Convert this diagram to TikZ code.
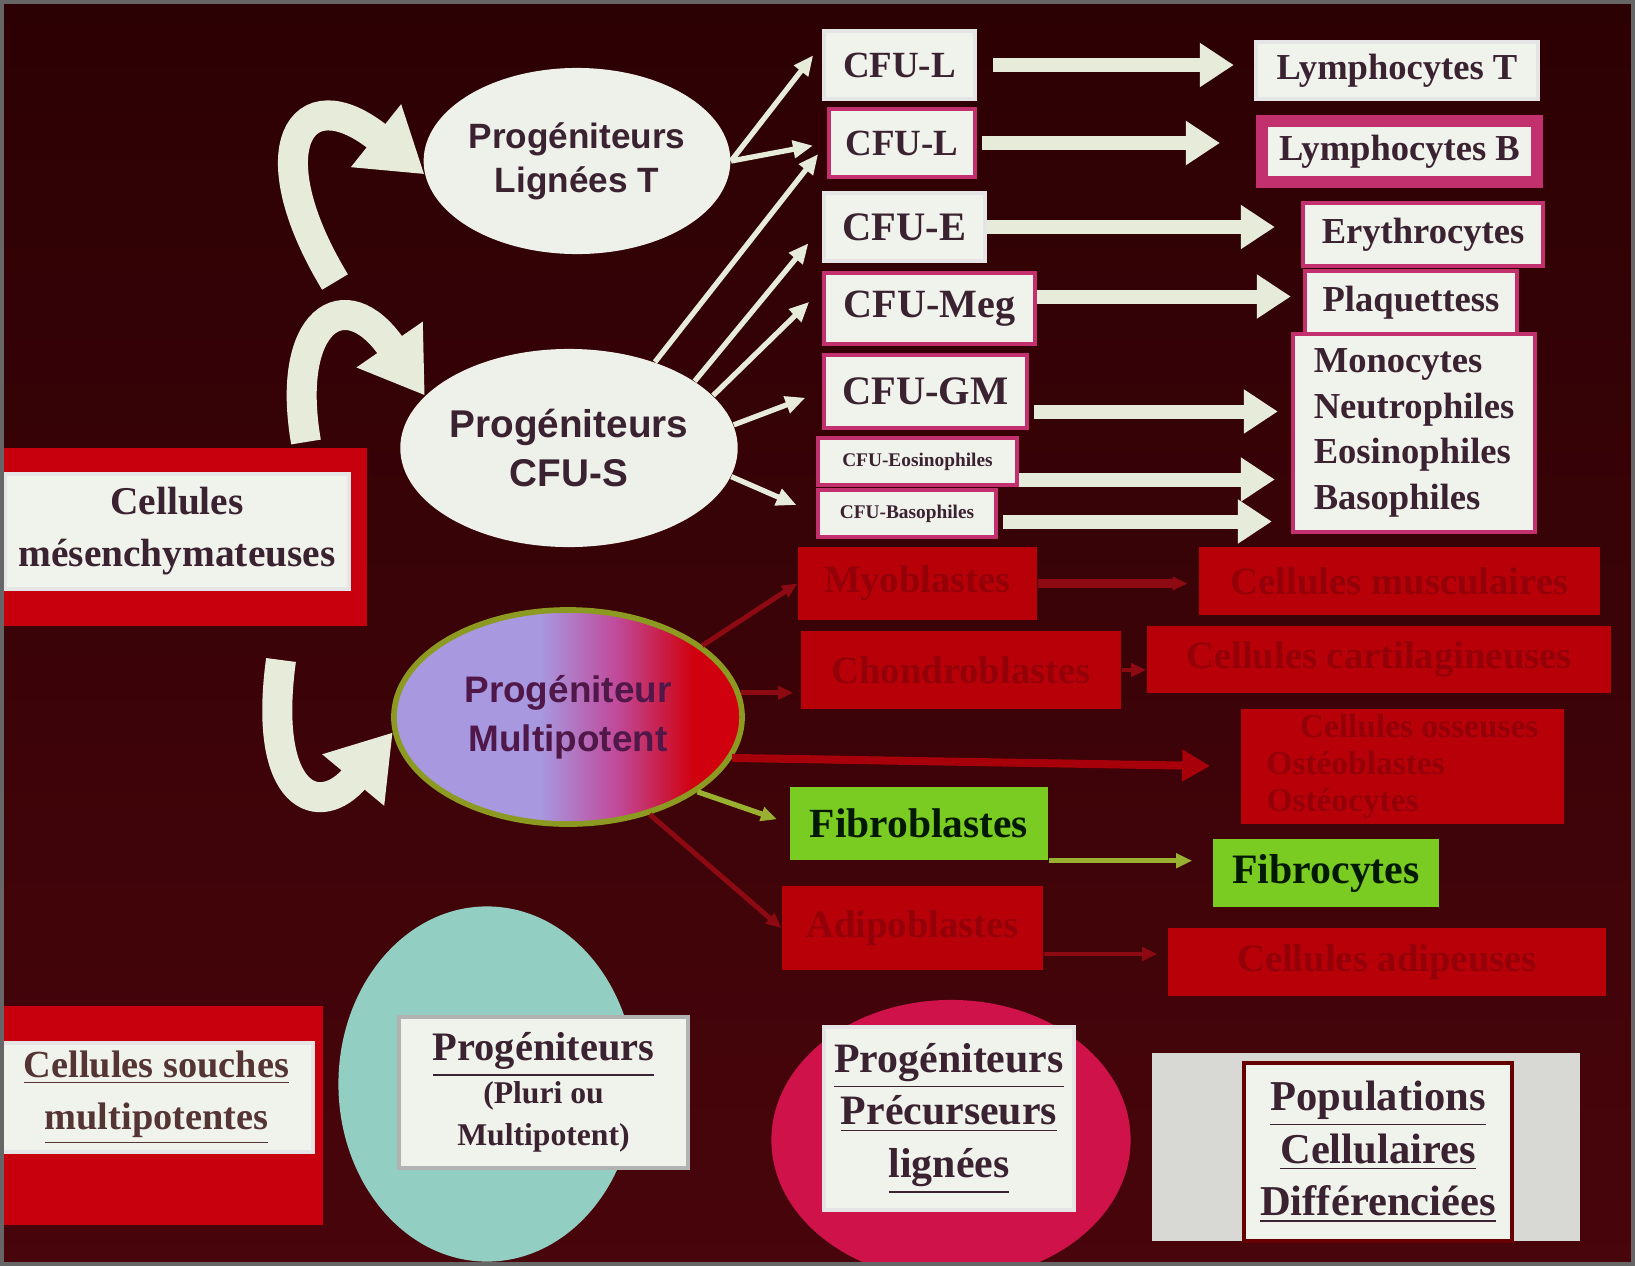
\documentclass[tikz,border=0pt]{standalone}
\usepackage{fontspec}
\setmainfont{Liberation Serif}
\newfontfamily\sansb{Liberation Sans}
\usetikzlibrary{shapes.geometric,arrows.meta,calc}
\newcommand\myfs[2]{\fontsize{#1}{#2}\selectfont}
\definecolor{bgtop}{HTML}{2C0104}
\definecolor{bgbot}{HTML}{48050B}
\definecolor{cream}{HTML}{E6ECD9}
\definecolor{ellfill}{HTML}{EEF0EA}
\definecolor{txt}{HTML}{3B2231}
\definecolor{boxred}{HTML}{B80008}
\definecolor{redtxt}{HTML}{940008}
\definecolor{brightred}{HTML}{C8000E}
\definecolor{pinkb}{HTML}{C2306E}
\definecolor{grn}{HTML}{7ACC22}
\definecolor{grnline}{HTML}{9AB030}
\definecolor{tealc}{HTML}{92CFC2}
\definecolor{crimson}{HTML}{D0124A}
\definecolor{lav}{HTML}{A898E0}
\definecolor{mpred}{HTML}{D0000E}
\definecolor{mppink}{HTML}{C04A9A}
\definecolor{olive}{HTML}{8C9A22}
\definecolor{boxwhite}{HTML}{F0F2EC}
\definecolor{graybox}{HTML}{D8D8D4}
\definecolor{darkredline}{HTML}{8E0A12}
\definecolor{ostred}{HTML}{A8000A}
\pgfdeclarehorizontalshading{mpshade}{100bp}{color(0bp)=(lav); color(46bp)=(lav); color(57bp)=(mppink); color(68bp)=(mpred); color(100bp)=(mpred)}
\tikzset{
  wbox/.style={rectangle, fill=boxwhite, draw=#1, line width=1.2pt, inner sep=0pt, text=txt, align=center},
  wbox/.default=white!80!gray,
  rbox/.style={rectangle, fill=boxred, inner sep=0pt, text=redtxt, align=center},
  gbox/.style={rectangle, fill=grn, inner sep=0pt, text=black!75!green!40!black, align=center},
  ellnode/.style={ellipse, fill=ellfill, inner sep=0pt, text=txt, align=center},
  blockarr/.style={draw=cream, line width=0.14cm, -{Triangle[width=0.42cm,length=0.34cm]}},
  thinarr/.style={draw=cream, line width=1.5pt, -{Triangle[width=0.17cm,length=0.2cm]}},
  curvarr/.style={draw=cream, line width=0.3cm, -{Triangle[width=0.76cm,length=0.62cm]}},
  redarr/.style={draw=darkredline, line width=1.4pt, -{Triangle[width=0.13cm,length=0.15cm]}},
  grnarr/.style={draw=grnline, line width=1.5pt, -{Triangle[width=0.14cm,length=0.16cm]}}
}
\begin{document}
\begin{tikzpicture}[x=0.01cm,y=-0.01cm]
\useasboundingbox (0,0) rectangle (1635,1266);
\clip (0,0) rectangle (1635,1266);
\shade[top color=bgtop, bottom color=bgbot] (0,0) rectangle (1635,1266);

% ---- ellipses
\node[ellnode, minimum width=2.88cm, minimum height=1.86cm, font=\sansb\bfseries\myfs{10}{12.5}] (ellT) at (577,161) {Progéniteurs\\Lignées T};
\node[ellnode, minimum width=3.14cm, minimum height=1.98cm, font=\sansb\bfseries\myfs{11}{14}] (cfuS) at (569,448) {Progéniteurs\\CFU-S};
\node[ellipse, shade, shading=mpshade, draw=olive, line width=1.6pt, inner sep=0pt, minimum width=3.48cm, minimum height=2.14cm, text=txt!70!violet, align=center, font=\sansb\bfseries\myfs{10.5}{14}] (mp) at (568,717) {Progéniteur\\Multipotent};

% ---- left boxes
\node[rectangle, fill=brightred, minimum width=3.67cm, minimum height=1.78cm] (mesOut) at (183.5,537) {};
\node[wbox, minimum width=3.44cm, minimum height=1.15cm, font=\bfseries\myfs{11.2}{14.8}] (mes) at (177,531.5) {Cellules\\mésenchymateuses};

\node[rectangle, fill=brightred, minimum width=3.23cm, minimum height=2.19cm] (souOut) at (161.5,1115.5) {};
\node[wbox, minimum width=3.13cm, minimum height=1.09cm, font=\bfseries\myfs{10.9}{14.8}, text=txt!80!brown] (sou) at (156.5,1097.5) {\underline{Cellules souches}\\\underline{multipotentes}};

% ---- bottom legend circles
\node[ellipse, fill=tealc, minimum width=2.97cm, minimum height=3.55cm, inner sep=0pt] (teal) at (487,1084) {};
\node[wbox=gray!60, minimum width=2.89cm, minimum height=1.51cm, font=\bfseries\myfs{9}{12}] (tealbox) at (543.5,1092.5) {{\myfs{11.5}{13}\underline{Progéniteurs}}\\(Pluri ou\\Multipotent)};

\node[ellipse, fill=crimson, minimum width=3.59cm, minimum height=2.8cm, inner sep=0pt] (pinkc) at (951,1140) {};
\node[wbox, minimum width=2.5cm, minimum height=1.83cm, font=\bfseries\myfs{11.9}{15}] (pinkbox) at (949,1118.5) {\underline{Progéniteurs}\\\underline{Précurseurs}\\\underline{lignées}};

\node[rectangle, fill=graybox, minimum width=4.28cm, minimum height=1.88cm] (popOut) at (1366,1147) {};
\node[wbox=black!60!red, minimum width=2.68cm, minimum height=1.78cm, font=\bfseries\myfs{12.1}{15}] (pop) at (1378,1152) {\underline{Populations}\\\underline{Cellulaires}\\\underline{Différenciées}};

% ---- CFU boxes
\node[wbox, minimum width=1.51cm, minimum height=0.68cm, font=\bfseries\myfs{10.5}{12}] (cfuL1) at (899.5,65) {CFU-L};
\node[wbox=pinkb, minimum width=1.46cm, minimum height=0.68cm, font=\bfseries\myfs{10.5}{12}] (cfuL2) at (902,143) {CFU-L};
\node[wbox, minimum width=1.61cm, minimum height=0.68cm, font=\bfseries\myfs{11.5}{12}] (cfuE) at (904.5,227) {CFU-E};
\node[wbox=pinkb, minimum width=2.11cm, minimum height=0.71cm, font=\bfseries\myfs{11.4}{12}] (cfuMeg) at (929.5,308.5) {CFU-Meg};
\node[wbox=pinkb, minimum width=2.03cm, minimum height=0.73cm, font=\bfseries\myfs{11.5}{12}] (cfuGM) at (925.5,391.5) {CFU-GM};
\node[wbox=pinkb, minimum width=1.99cm, minimum height=0.47cm, font=\bfseries\myfs{5.5}{6}] (cfuEos) at (917.5,461.5) {CFU-Eosinophiles};
\node[wbox=pinkb, minimum width=1.78cm, minimum height=0.47cm, font=\bfseries\myfs{5.5}{6}] (cfuBas) at (907,513.5) {CFU-Basophiles};

% ---- targets
\node[wbox, minimum width=2.82cm, minimum height=0.57cm, font=\bfseries\myfs{10.4}{12}] (lymT) at (1397,70.5) {Lymphocytes T};
\node[wbox=pinkb, line width=3.4pt, minimum width=2.75cm, minimum height=0.61cm, font=\bfseries\myfs{10.4}{12}] (lymB) at (1399.5,151.5) {Lymphocytes B};
\node[wbox=pinkb, minimum width=2.40cm, minimum height=0.63cm, font=\bfseries\myfs{10.4}{12}] (ery) at (1423,234.5) {Erythrocytes};
\node[wbox=pinkb, minimum width=2.12cm, minimum height=0.63cm, font=\bfseries\myfs{10.4}{12}] (plaq) at (1411,302.5) {Plaquettess};
\node[wbox=pinkb, minimum width=2.42cm, minimum height=1.98cm, font=\bfseries\myfs{10.4}{13}, align=left] (grp) at (1414,433) {Monocytes\\Neutrophiles\\Eosinophiles\\Basophiles};

% ---- red and green boxes
\node[rbox, minimum width=2.39cm, minimum height=0.73cm, font=\bfseries\myfs{11}{13}] (myo) at (917.5,583.5) {Myoblastes};
\node[rbox, minimum width=4.01cm, minimum height=0.68cm, font=\bfseries\myfs{11}{13}] (musc) at (1399.5,581) {Cellules musculaires};
\node[rbox, minimum width=3.2cm, minimum height=0.78cm, font=\bfseries\myfs{11}{13}] (chon) at (961,670) {Chondroblastes};
\node[rbox, minimum width=4.64cm, minimum height=0.67cm, font=\bfseries\myfs{11}{13}] (cart) at (1379,659.5) {Cellules cartilagineuses};
\node[rbox, minimum width=3.23cm, minimum height=1.15cm, font=\bfseries\myfs{9.5}{10.5}, align=left] (ost) at (1402.5,766.5) {\hspace*{1em}Cellules osseuses\\Ostéoblastes\\Ostéocytes};
\node[rbox, minimum width=2.61cm, minimum height=0.84cm, font=\bfseries\myfs{11}{13}] (adi) at (912.5,928) {Adipoblastes};
\node[rbox, minimum width=4.38cm, minimum height=0.68cm, font=\bfseries\myfs{11}{13}] (adip) at (1387,962) {Cellules adipeuses};
\node[gbox, minimum width=2.58cm, minimum height=0.73cm, font=\bfseries\myfs{11.8}{13}] (fibb) at (919,823.5) {Fibroblastes};
\node[gbox, minimum width=2.26cm, minimum height=0.68cm, font=\bfseries\myfs{11.9}{13}] (fibc) at (1326,873) {Fibrocytes};

% ---- curved block arrows
\coordinate (c1) at (335,282);
\coordinate (c2) at (306,442);
\coordinate (c3) at (281,660);
\draw[curvarr] (c1) .. controls (255,150) and (300,75) .. (ellT.185);
\draw[curvarr] (c2) .. controls (285,320) and (345,280) .. (cfuS.160);
\draw[curvarr] (c3) .. controls (262,800) and (320,820) .. (mp.185);

% ---- thin arrows from ellipses
\draw[thinarr, shorten >=4pt] (ellT.east) -- (cfuL1.165);
\draw[thinarr, shorten >=4pt] (ellT.east) -- (cfuL2.west);
\draw[thinarr, shorten >=4pt] (cfuS.45) -- (cfuL2.west);
\draw[thinarr, shorten >=6pt] (cfuS.28) -- (cfuE.west);
\draw[thinarr, shorten >=5pt] (cfuS.20) -- (cfuMeg.170);
\draw[thinarr, shorten >=5pt] (cfuS.8) -- (cfuGM.west);
\draw[thinarr, shorten >=6pt] (cfuS.-10) -- (cfuBas.west);

% ---- straight block arrows
\coordinate (megout) at ($(cfuMeg.east)+(0,-12)$);
\coordinate (gmout) at ($(cfuGM.east)+(0,20)$);
\coordinate (eosout) at ($(cfuEos.east)+(0,18)$);
\coordinate (basout) at ($(cfuBas.east)+(0,8)$);
\draw[blockarr, shorten <=0.16cm, shorten >=0.2cm] (cfuL1.east) -- (cfuL1.east -| lymT.west);
\draw[blockarr, shorten <=0.05cm, shorten >=0.36cm] (cfuL2.east) -- (cfuL2.east -| lymB.west);
\draw[blockarr, shorten >=0.26cm] (cfuE.east) -- (cfuE.east -| ery.west);
\draw[blockarr, shorten >=0.12cm] (megout) -- (megout -| plaq.west);
\draw[blockarr, shorten <=0.05cm, shorten >=0.13cm] (gmout) -- (gmout -| grp.west);
\draw[blockarr, shorten >=0.16cm] (eosout) -- (eosout -| grp.west);
\draw[blockarr, shorten <=0.05cm, shorten >=0.19cm] (basout) -- (basout -| grp.west);

% ---- mesenchymal arrows
\coordinate (adiout) at ($(adi.east)+(0,26)$);
\draw[redarr] (mp.28) -- (myo.west);
\draw[redarr, shorten >=2pt] (mp.8) -- (mp.8 -| chon.west);
\draw[draw=ostred, line width=0.08cm, -{Triangle[width=0.3cm,length=0.28cm]}, shorten >=0.3cm] (mp.-14) -- (ost.west);
\draw[grnarr, shorten >=0.13cm] (mp.-30) -- (fibb.west);
\draw[redarr] (mp.-50) -- (adi.west);
\draw[redarr, line width=2.5pt, shorten >=3pt] (myo.east) -- (myo.east -| musc.west);
\draw[redarr] (chon.east) -- (chon.east -| cart.west);
\draw[grnarr, shorten >=0.2cm] (fibb.south east) -- (fibb.south east -| fibc.west);
\draw[redarr, shorten >=0.1cm] (adiout) -- (adiout -| adip.west);

\draw[black!60, line width=1.5pt] (1,1) rectangle (1634,1265);
\end{tikzpicture}
\end{document}
